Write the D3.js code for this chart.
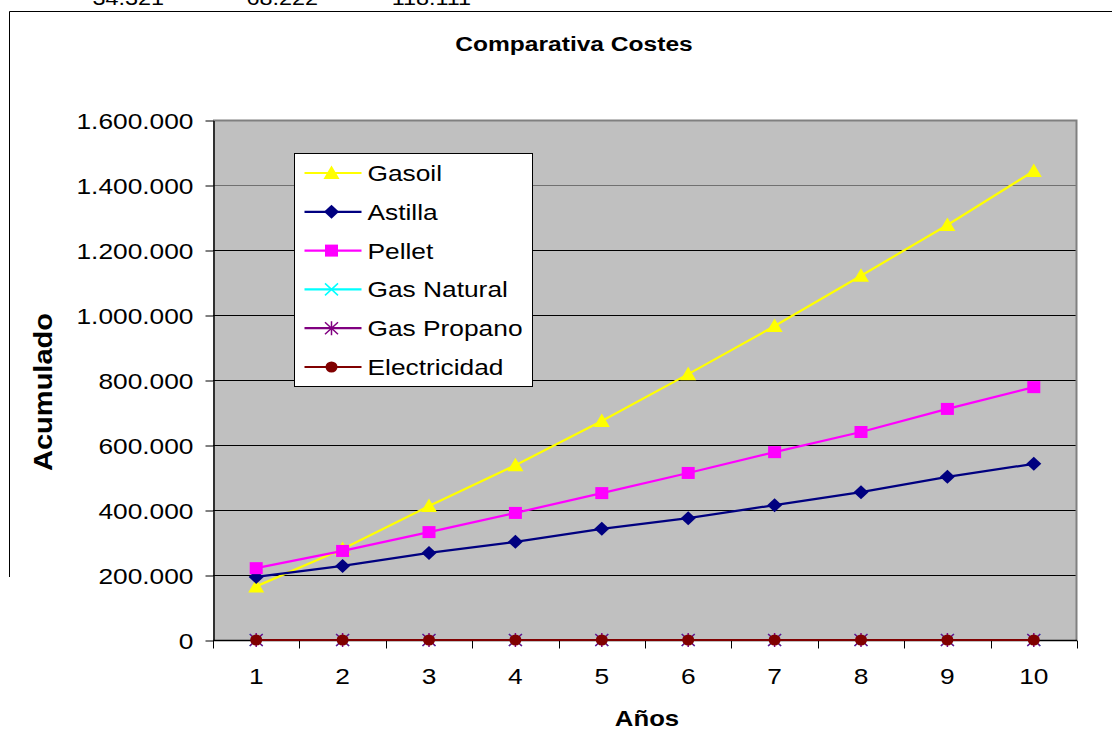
<!DOCTYPE html>
<html>
<head>
<meta charset="utf-8">
<script src="https://cdn.jsdelivr.net/npm/d3@7"></script>
<style>
  html, body { margin: 0; padding: 0; background: #fff; }
  svg { display: block; font-family: "Liberation Sans", Arial, sans-serif; }
</style>
</head>
<body>
<svg id="chart" width="1112" height="741"></svg>
<script>
// Years on the horizontal axis
const years = [1, 2, 3, 4, 5, 6, 7, 8, 9, 10];

// Accumulated cost per heating source (€)
const gasoil      = [165000, 280000, 412000, 538000, 674000, 818000, 966000, 1121000, 1277000, 1443000];
const astilla     = [194000, 228000, 268000, 302000, 342000, 375000, 415000, 455000, 502000, 542000];
const pellet      = [221000, 274000, 332000, 391000, 452000, 514000, 578000, 640000, 711000, 778000];
const gasNatural  = [0, 0, 0, 0, 0, 0, 0, 0, 0, 0];
const gasPropano  = [0, 0, 0, 0, 0, 0, 0, 0, 0, 0];
const electricidad = [0, 0, 0, 0, 0, 0, 0, 0, 0, 0];

const seriesNames = ["Gasoil", "Astilla", "Pellet", "Gas Natural", "Gas Propano", "Electricidad"];
const yTicks = [0, 200000, 400000, 600000, 800000, 1000000, 1200000, 1400000, 1600000];

// Spreadsheet cells peeking above the chart object
const cellTexts = ["34.321", "68.222", "118.111"];

const series = [
  { name: seriesNames[0], values: gasoil,       color: "#FFFF00", marker: "triangle" },
  { name: seriesNames[1], values: astilla,      color: "#000080", marker: "diamond" },
  { name: seriesNames[2], values: pellet,       color: "#FF00FF", marker: "square" },
  { name: seriesNames[3], values: gasNatural,   color: "#00FFFF", marker: "x" },
  { name: seriesNames[4], values: gasPropano,   color: "#800080", marker: "star" },
  { name: seriesNames[5], values: electricidad, color: "#800000", marker: "circle" }
];

const svg = d3.select("#chart");
const plot = { left: 213, right: 1077, top: 120, bottom: 640 };
const SX = 1.17; // horizontal stretch of the chart lettering

const x = d3.scaleBand().domain(years).range([plot.left, plot.right]).padding(0);
const y = d3.scaleLinear().domain([0, 1600000]).range([plot.bottom, plot.top]);
const cx = d => x(d) + x.bandwidth() / 2;

const fmt = v => d3.format(",")(v).replace(/,/g, ".");

// Text placed at (px, py) and widened around its anchor
function wideText(parent, px, py, str, size, anchor, bold) {
  return parent.append("text")
    .attr("transform", `translate(${px},${py}) scale(${SX},1)`)
    .attr("text-anchor", anchor)
    .attr("font-size", size)
    .attr("font-weight", bold ? "bold" : "normal")
    .attr("fill", "#000")
    .text(str);
}

// Cell values from the sheet behind the chart
const cellX = [164, 318, 471];
cellTexts.forEach((t, i) => wideText(svg, cellX[i], 5, t, 20, "end", false));

// Chart area frame (partly visible)
svg.append("path")
  .attr("d", "M9.5,577 V11.5 H1112")
  .attr("fill", "none").attr("stroke", "#000").attr("stroke-width", 1);

// Plot area
svg.append("rect")
  .attr("x", plot.left).attr("y", plot.top)
  .attr("width", plot.right - plot.left).attr("height", plot.bottom - plot.top)
  .attr("fill", "#C0C0C0");

// Gridlines
svg.append("g").selectAll("line").data(yTicks.filter(t => t > 0)).join("line")
  .attr("x1", plot.left).attr("x2", plot.right)
  .attr("y1", d => Math.round(y(d)) + 0.5).attr("y2", d => Math.round(y(d)) + 0.5)
  .attr("stroke", d => d >= 1400000 ? "#707070" : "#000").attr("stroke-width", 1);

// Plot border (right and top grey)
svg.append("path")
  .attr("d", `M${plot.left},${plot.top + 0.5} H${plot.right - 0.5} V${plot.bottom}`)
  .attr("fill", "none").attr("stroke", "#808080").attr("stroke-width", 2);

// Y axis
const yAxis = d3.axisLeft(y).tickValues(yTicks).tickFormat(fmt).tickSize(8).tickSizeOuter(0);
const gy = svg.append("g").attr("transform", `translate(${plot.left + 0.5},0.5)`).call(yAxis);
gy.select(".domain").attr("stroke", "#000").attr("stroke-width", 1.5);
gy.selectAll(".tick line").attr("stroke", "#000");
gy.selectAll(".tick text")
  .attr("font-family", "Liberation Sans, Arial, sans-serif")
  .attr("font-size", 22.5).attr("fill", "#000")
  .attr("x", 0).attr("dy", "0.35em")
  .attr("transform", `translate(-20,0) scale(${SX},1)`);

// X axis with ticks between categories
const gx = svg.append("g").attr("transform", `translate(0,${plot.bottom + 0.5})`);
gx.append("line").attr("x1", plot.left).attr("x2", plot.right)
  .attr("stroke", "#000").attr("stroke-width", 1.5);
const edges = years.map(d => x(d)).concat([plot.right]);
gx.selectAll("line.tk").data(edges).join("line")
  .attr("class", "tk")
  .attr("x1", d => Math.round(d) + 0.5).attr("x2", d => Math.round(d) + 0.5)
  .attr("y1", 0).attr("y2", 8).attr("stroke", "#000");
years.forEach(d => wideText(gx, cx(d), 43, d, 22.5, "middle", false));

// Titles
wideText(svg, 574, 51, "Comparativa Costes", 21, "middle", true);
wideText(svg, 647, 726, "Años", 22, "middle", true);
svg.append("text")
  .attr("transform", "translate(52,392) rotate(-90) scale(1,1.17)")
  .attr("text-anchor", "middle").attr("font-size", 22).attr("font-weight", "bold")
  .attr("textLength", 158).attr("lengthAdjust", "spacingAndGlyphs")
  .text("Acumulado");

// Marker drawing
function drawMarker(g, type, color) {
  switch (type) {
    case "triangle":
      g.append("path").attr("d", "M0,-7.5 L8,6 L-8,6 Z").attr("fill", color);
      break;
    case "diamond":
      g.append("path").attr("d", "M0,-7 L7.5,0 L0,7 L-7.5,0 Z").attr("fill", color);
      break;
    case "square":
      g.append("rect").attr("x", -6.5).attr("y", -6).attr("width", 13).attr("height", 12).attr("fill", color);
      break;
    case "x":
      g.append("path").attr("d", "M-6.5,-6 L6.5,6 M6.5,-6 L-6.5,6").attr("stroke", color).attr("stroke-width", 1.5);
      break;
    case "star":
      g.append("path").attr("d", "M-6.5,-6 L6.5,6 M6.5,-6 L-6.5,6 M0,-7 V7").attr("stroke", color).attr("stroke-width", 1.5);
      break;
    case "circle":
      g.append("ellipse").attr("rx", 6).attr("ry", 5.5).attr("fill", color);
      break;
  }
}

// Series lines and markers
const line = d3.line().x((d, i) => cx(years[i])).y(d => y(d));
series.forEach(s => {
  const g = svg.append("g");
  g.append("path").attr("d", line(s.values))
    .attr("fill", "none").attr("stroke", s.color).attr("stroke-width", 2.2);
  s.values.forEach((v, i) => {
    const m = g.append("g").attr("transform", `translate(${cx(years[i])},${y(v)})`);
    drawMarker(m, s.marker, s.color);
  });
});

// Legend
const legend = svg.append("g").attr("transform", "translate(294.5,153.5)");
legend.append("rect").attr("width", 238).attr("height", 233)
  .attr("fill", "#fff").attr("stroke", "#000").attr("stroke-width", 1);
series.forEach((s, i) => {
  const row = legend.append("g").attr("transform", `translate(0,${19.5 + i * 38.8})`);
  row.append("line").attr("x1", 10).attr("x2", 67).attr("stroke", s.color).attr("stroke-width", 2.2);
  drawMarker(row.append("g").attr("transform", "translate(37,0)"), s.marker, s.color);
  wideText(row, 73, 8, s.name, 22.5, "start", false);
});
</script>
</body>
</html>
